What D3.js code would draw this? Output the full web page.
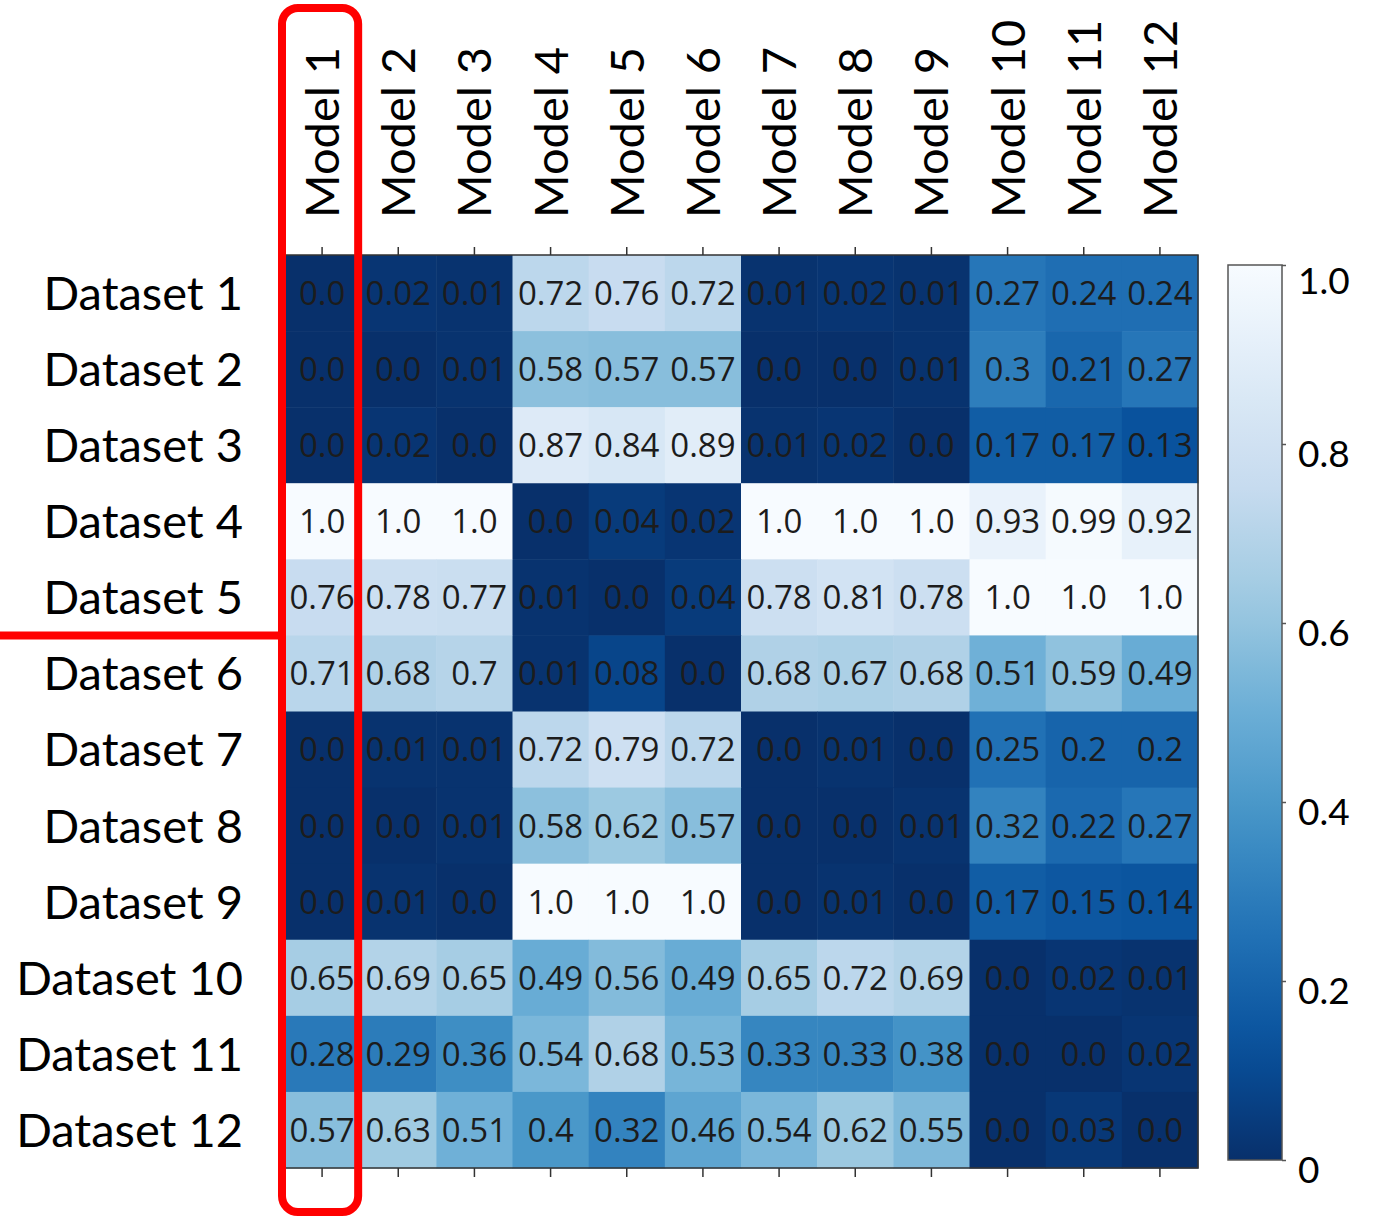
<!DOCTYPE html>
<html>
<head>
<meta charset="utf-8">
<script src="https://cdn.jsdelivr.net/npm/d3@7"></script>
<style>
  html, body { margin: 0; padding: 0; background: #fff; }
  svg { display: block; }
</style>
</head>
<body>
<svg id="chart" width="1374" height="1219"></svg>
<script>
// Column and row categories
const models = ["Model 1", "Model 2", "Model 3", "Model 4", "Model 5", "Model 6",
                "Model 7", "Model 8", "Model 9", "Model 10", "Model 11", "Model 12"];
const datasets = ["Dataset 1", "Dataset 2", "Dataset 3", "Dataset 4", "Dataset 5", "Dataset 6",
                  "Dataset 7", "Dataset 8", "Dataset 9", "Dataset 10", "Dataset 11", "Dataset 12"];

// One row of scores per dataset, in model order
const dataset1  = [0.0, 0.02, 0.01, 0.72, 0.76, 0.72, 0.01, 0.02, 0.01, 0.27, 0.24, 0.24];
const dataset2  = [0.0, 0.0, 0.01, 0.58, 0.57, 0.57, 0.0, 0.0, 0.01, 0.3, 0.21, 0.27];
const dataset3  = [0.0, 0.02, 0.0, 0.87, 0.84, 0.89, 0.01, 0.02, 0.0, 0.17, 0.17, 0.13];
const dataset4  = [1.0, 1.0, 1.0, 0.0, 0.04, 0.02, 1.0, 1.0, 1.0, 0.93, 0.99, 0.92];
const dataset5  = [0.76, 0.78, 0.77, 0.01, 0.0, 0.04, 0.78, 0.81, 0.78, 1.0, 1.0, 1.0];
const dataset6  = [0.71, 0.68, 0.7, 0.01, 0.08, 0.0, 0.68, 0.67, 0.68, 0.51, 0.59, 0.49];
const dataset7  = [0.0, 0.01, 0.01, 0.72, 0.79, 0.72, 0.0, 0.01, 0.0, 0.25, 0.2, 0.2];
const dataset8  = [0.0, 0.0, 0.01, 0.58, 0.62, 0.57, 0.0, 0.0, 0.01, 0.32, 0.22, 0.27];
const dataset9  = [0.0, 0.01, 0.0, 1.0, 1.0, 1.0, 0.0, 0.01, 0.0, 0.17, 0.15, 0.14];
const dataset10 = [0.65, 0.69, 0.65, 0.49, 0.56, 0.49, 0.65, 0.72, 0.69, 0.0, 0.02, 0.01];
const dataset11 = [0.28, 0.29, 0.36, 0.54, 0.68, 0.53, 0.33, 0.33, 0.38, 0.0, 0.0, 0.02];
const dataset12 = [0.57, 0.63, 0.51, 0.4, 0.32, 0.46, 0.54, 0.62, 0.55, 0.0, 0.03, 0.0];

const rows = [dataset1, dataset2, dataset3, dataset4, dataset5, dataset6,
              dataset7, dataset8, dataset9, dataset10, dataset11, dataset12];

// Colour bar ticks
const colorbarTicks = [0, 0.2, 0.4, 0.6, 0.8, 1.0];
const colorbarTickLabels = ["0", "0.2", "0.4", "0.6", "0.8", "1.0"];

// Reversed "Blues" palette, linear between the ColorBrewer stops
const bluesStops = ["#f7fbff", "#deebf7", "#c6dbef", "#9ecae1", "#6baed6",
                    "#4292c6", "#2171b5", "#08519c", "#08306b"];

const svg = d3.select("#chart");
const labelFont = "Lato, 'Open Sans', sans-serif";
const cellFont = "'Open Sans', Lato, sans-serif";

const plot = { left: 284, right: 1198, top: 255, bottom: 1168 };
const bar = { left: 1228, right: 1282, top: 265, bottom: 1160 };

const x = d3.scaleBand().domain(models).range([plot.left, plot.right]);
const y = d3.scaleBand().domain(datasets).range([plot.top, plot.bottom]);

const bluesInterp = d3.piecewise(d3.interpolateRgb, bluesStops.slice().reverse());
const color = d3.scaleSequential(bluesInterp).domain([0, 1]);

const cells = [];
rows.forEach((vals, i) => vals.forEach((v, j) => cells.push({ row: datasets[i], col: models[j], value: v })));

// Format like 0.0 / 0.3 / 0.27 / 1.0
function fmt(v) {
  let s = v.toFixed(2);
  if (s.endsWith("0")) s = s.slice(0, -1);
  return s;
}

// Heatmap cells
svg.append("g").selectAll("rect").data(cells).join("rect")
  .attr("x", d => x(d.col))
  .attr("y", d => y(d.row))
  .attr("width", x.bandwidth() + 0.5)
  .attr("height", y.bandwidth() + 0.5)
  .attr("fill", d => color(d.value));

// Cell annotations
svg.append("g").selectAll("text").data(cells).join("text")
  .attr("x", d => x(d.col) + x.bandwidth() / 2)
  .attr("y", d => y(d.row) + y.bandwidth() / 2)
  .attr("dy", "0.36em")
  .attr("text-anchor", "middle")
  .attr("font-family", cellFont)
  .attr("font-size", 33)
  .attr("fill", "#1c1c1c")
  .text(d => fmt(d.value));

// Frame
svg.append("rect")
  .attr("x", plot.left).attr("y", plot.top)
  .attr("width", plot.right - plot.left).attr("height", plot.bottom - plot.top)
  .attr("fill", "none").attr("stroke", "#333").attr("stroke-width", 1.5);

// Axes
const topAxis = d3.axisTop(x).tickSize(8).tickPadding(30);
const gTop = svg.append("g").attr("transform", `translate(0,${plot.top})`).call(topAxis);
gTop.select(".domain").remove();
gTop.selectAll(".tick line").attr("stroke", "#333").attr("stroke-width", 1.5);
gTop.selectAll(".tick text")
  .attr("font-family", labelFont).attr("font-size", 47).attr("fill", "#000")
  .attr("transform", "rotate(-90)")
  .attr("text-anchor", "start")
  .attr("x", 37).attr("y", 0).attr("dy", "0.36em");

const bottomAxis = d3.axisBottom(x).tickSize(9).tickFormat("");
const gBottom = svg.append("g").attr("transform", `translate(0,${plot.bottom})`).call(bottomAxis);
gBottom.select(".domain").remove();
gBottom.selectAll(".tick line").attr("stroke", "#333").attr("stroke-width", 1.5);

const leftAxis = d3.axisLeft(y).tickSize(6).tickPadding(35);
const gLeft = svg.append("g").attr("transform", `translate(${plot.left},0)`).call(leftAxis);
gLeft.select(".domain").remove();
gLeft.selectAll(".tick line").attr("stroke", "#333").attr("stroke-width", 1.5);
gLeft.selectAll(".tick text")
  .attr("font-family", labelFont).attr("font-size", 47).attr("fill", "#000")
  .attr("dy", "0.36em");

// Colour bar
const defs = svg.append("defs");
const grad = defs.append("linearGradient").attr("id", "cbar")
  .attr("x1", 0).attr("y1", 1).attr("x2", 0).attr("y2", 0);
d3.range(0, 1.0001, 0.05).forEach(t => {
  grad.append("stop").attr("offset", t).attr("stop-color", color(t));
});
svg.append("rect")
  .attr("x", bar.left).attr("y", bar.top)
  .attr("width", bar.right - bar.left).attr("height", bar.bottom - bar.top)
  .attr("fill", "url(#cbar)").attr("stroke", "#555").attr("stroke-width", 1.5);

const cy = d3.scaleLinear().domain([0, 1]).range([bar.bottom, bar.top]);
const cAxis = d3.axisRight(cy).tickValues(colorbarTicks).tickSize(4).tickPadding(12)
  .tickFormat((d, i) => colorbarTickLabels[i]);
const gC = svg.append("g").attr("transform", `translate(${bar.right},0)`).call(cAxis);
gC.select(".domain").remove();
gC.selectAll(".tick line").attr("stroke", "#555").attr("stroke-width", 1.5);
gC.selectAll(".tick text")
  .attr("font-family", labelFont).attr("font-size", 37).attr("fill", "#000")
  .attr("dy", d => d === 1 ? "0.78em" : "0.6em");

// Highlight: outline around the first model column and a divider after Dataset 5
const hl = svg.append("g").attr("fill", "none").attr("stroke", "#ff0000").attr("stroke-width", 8);
const colX = x(models[0]);
hl.append("rect")
  .attr("x", colX - 2).attr("y", 8)
  .attr("width", x.bandwidth())
  .attr("height", 1204)
  .attr("rx", 16).attr("ry", 16);
const divY = y(datasets[5]);
hl.append("line")
  .attr("x1", 0).attr("x2", colX - 2)
  .attr("y1", divY).attr("y2", divY);
</script>
</body>
</html>
